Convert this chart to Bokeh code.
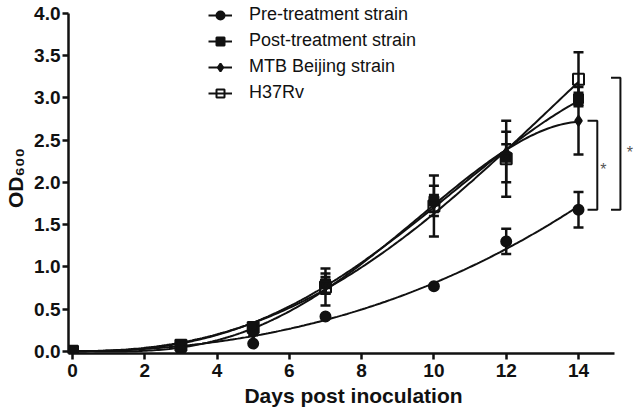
import numpy as np
from bokeh.plotting import figure
from bokeh.models import (ColumnDataSource, Whisker, TeeHead, Legend, LegendItem,
                          FixedTicker, PrintfTickFormatter, Label, Range1d)
from bokeh.embed import file_html
from bokeh.resources import INLINE

# ---------------- data ----------------
days = [0, 3, 5, 7, 10, 12, 14]
pre_mean = [0.0, 0.02, 0.09, 0.41, 0.77, 1.30, 1.675]
pre_err = [0.0, 0.0, 0.0, 0.0, 0.0, 0.15, 0.21]
post_mean = [0.0, 0.07, 0.28, 0.80, 1.78, 2.30, 2.99]
post_err = [0.0, 0.01, 0.03, 0.12, 0.18, 0.30, 0.07]
bj_mean = [0.0, 0.04, 0.21, 0.78, 1.75, 2.35, 2.73]
bj_err = [0.0, 0.0, 0.02, 0.10, 0.10, 0.10, 0.40]
h37_mean = [0.0, 0.07, 0.28, 0.76, 1.72, 2.28, 3.22]
h37_err = [0.0, 0.02, 0.04, 0.22, 0.36, 0.45, 0.32]
series_names = ["Pre-treatment strain", "Post-treatment strain",
                "MTB Beijing strain", "H37Rv"]
x_ticks = [0, 2, 4, 6, 8, 10, 12, 14]
y_ticks = [0.0, 0.5, 1.0, 1.5, 2.0, 2.5, 3.0, 3.5, 4.0]

FONT = "Liberation Sans"
INK = "#111111"

p = figure(width=638, height=416, output_backend="svg", toolbar_location=None,
           x_range=Range1d(-0.11, 15.66), y_range=Range1d(-0.027, 4.13),
           min_border_left=68, min_border_right=0, min_border_top=2,
           min_border_bottom=63)
p.outline_line_color = None
p.xgrid.visible = False
p.ygrid.visible = False
p.background_fill_color = "white"
p.border_fill_color = "white"

for ax in (p.xaxis[0], p.yaxis[0]):
    ax.axis_line_width = 2.5
    ax.axis_line_color = INK
    ax.major_tick_line_width = 2.5
    ax.major_tick_line_color = INK
    ax.major_tick_out = 6
    ax.major_tick_in = 0
    ax.minor_tick_line_color = None
    ax.major_label_text_font = FONT
    ax.major_label_text_font_style = "bold"
    ax.major_label_text_font_size = "19px"
    ax.major_label_text_color = INK
    ax.axis_label_text_font = FONT
    ax.axis_label_text_font_style = "bold"
    ax.axis_label_text_font_size = "21px"
    ax.axis_label_text_color = INK

p.xaxis.ticker = FixedTicker(ticks=x_ticks)
p.yaxis.ticker = FixedTicker(ticks=y_ticks)
p.yaxis.formatter = PrintfTickFormatter(format="%.1f")
p.xaxis.bounds = (-0.11, 15)
p.yaxis.bounds = (-0.027, 4.0)
p.xaxis.major_label_standoff = 4
p.yaxis.major_label_standoff = 2
p.xaxis.axis_label = "Days post inoculation"
p.xaxis.axis_label_standoff = 4
p.yaxis.axis_label = "OD\u2086\u2080\u2080"
p.yaxis.axis_label_standoff = 4

xs = np.linspace(0, 14, 200)
markers = [
    dict(marker="circle", size=10, fill_color=INK),
    dict(marker="square", size=9, fill_color=INK),
    dict(marker="diamond", size=10, fill_color=INK),
    dict(marker="square", size=11, fill_color=None),
]
all_means = [pre_mean, post_mean, bj_mean, h37_mean]
all_errs = [pre_err, post_err, bj_err, h37_err]
fit_powers = [[2, 3], [2, 3, 4], [2, 3, 4], [2, 3, 4]]

# least-squares growth curves through the origin
dd = np.array(days, dtype=float)
line_rs = []
for m, pw in zip(all_means, fit_powers):
    basis = np.column_stack([dd ** k for k in pw])
    coef, *_ = np.linalg.lstsq(basis, np.array(m), rcond=None)
    ys = sum(c * xs ** k for c, k in zip(coef, pw))
    line_rs.append(p.line(xs, ys, line_color=INK, line_width=2))

for m, e in zip(all_means, all_errs):
    mm = np.array(m)
    ee = np.array(e)
    k = ee > 0
    src = ColumnDataSource(dict(x=dd[k], lo=(mm - ee)[k], hi=(mm + ee)[k]))
    p.add_layout(Whisker(source=src, base="x", lower="lo", upper="hi",
                         line_color=INK, line_width=2.5,
                         upper_head=TeeHead(size=10, line_width=2.5, line_color=INK),
                         lower_head=TeeHead(size=10, line_width=2.5, line_color=INK)))

items = []
for i, m in enumerate(all_means):
    st = markers[i]
    mr = p.scatter(days, m, marker=st["marker"], size=st["size"],
                   fill_color=st["fill_color"], line_color=INK, line_width=2)
    if i == 3:
        items.append(LegendItem(label=series_names[i], renderers=[mr, line_rs[i]]))
    else:
        items.append(LegendItem(label=series_names[i], renderers=[line_rs[i], mr]))

legend = Legend(items=items, location=(140, 250), padding=0, margin=0,
                border_line_color=None, background_fill_alpha=0,
                glyph_width=24, glyph_height=20, label_height=20, spacing=5,
                label_standoff=17, label_text_font=FONT,
                label_text_font_size="18px", label_text_color=INK)
p.add_layout(legend)

# significance brackets
brackets = [
    dict(x0=14.25, x1=14.52, top=bj_mean[-1], bot=pre_mean[-1], sx=14.69, dy=-0.05),
    dict(x0=14.90, x1=15.16, top=h37_mean[-1] + 0.02, bot=pre_mean[-1], sx=15.42, dy=-0.10),
]
for b in brackets:
    p.line([b["x0"], b["x1"], b["x1"], b["x0"]], [b["top"], b["top"], b["bot"], b["bot"]],
           line_color=INK, line_width=2)
    p.add_layout(Label(x=b["sx"], y=(b["top"] + b["bot"]) / 2 + b["dy"], text="*",
                       text_font=FONT, text_font_size="16px", text_color="#555555",
                       text_align="center", text_baseline="middle"))

open("out.html", "w").write(file_html(p, INLINE))
